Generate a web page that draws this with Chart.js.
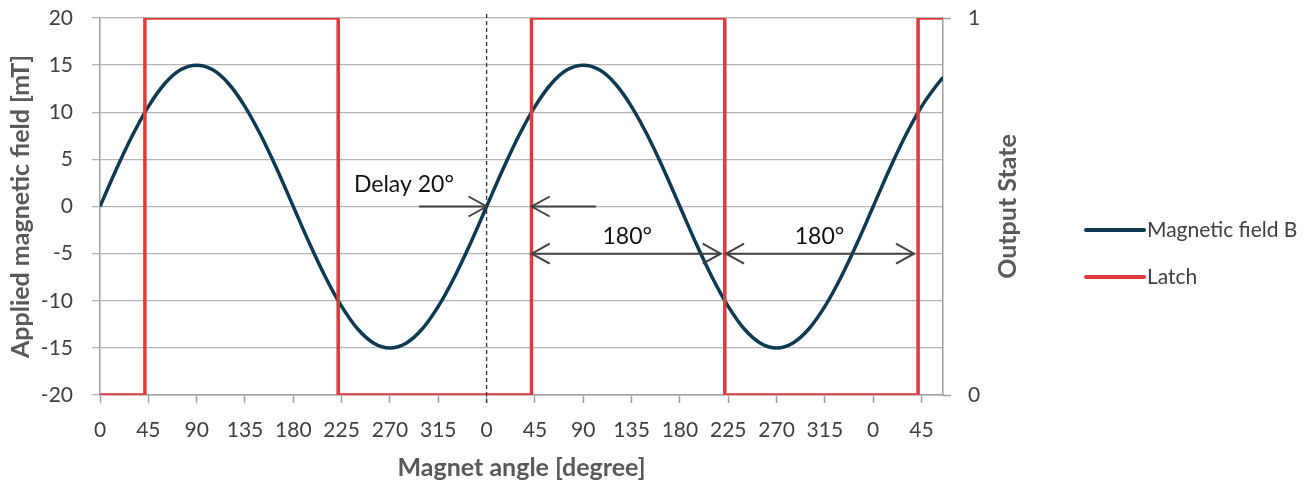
<!DOCTYPE html>
<html lang="en">
<head>
    <meta charset="UTF-8">
    <title>Latch output vs magnet angle</title>
    <script src="https://cdn.jsdelivr.net/npm/chart.js"></script>
    <style>
        body { margin: 0; background: #fff; }
        #wrap { width: 1314px; height: 485px; position: relative; }
    </style>
</head>
<body>
    <div id="wrap"><canvas id="myChart"></canvas></div>

    <script>
        // magnetic field, every 15 degrees
        const angles = [0, 15, 30, 45, 60, 75, 90, 105, 120, 135, 150, 165, 180, 195, 210, 225, 240, 255, 270, 285, 300, 315, 330, 345,
                        360, 375, 390, 405, 420, 435, 450, 465, 480, 495, 510, 525, 540, 555, 570, 585, 600, 615, 630, 645, 660, 675, 690, 705,
                        720, 735, 750, 765, 780, 785];
        const fieldB = [0, 3.9, 7.5, 10.6, 13, 14.5, 15, 14.5, 13, 10.6, 7.5, 3.9, 0, -3.9, -7.5, -10.6, -13, -14.5, -15, -14.5, -13, -10.6, -7.5, -3.9,
                        0, 3.9, 7.5, 10.6, 13, 14.5, 15, 14.5, 13, 10.6, 7.5, 3.9, 0, -3.9, -7.5, -10.6, -13, -14.5, -15, -14.5, -13, -10.6, -7.5, -3.9,
                        0, 3.9, 7.5, 10.6, 13, 13.7];

        // latch output (switches at +/-10 mT)
        const latchAngles = [0, 41.8, 41.8, 221.8, 221.8, 401.8, 401.8, 581.8, 581.8, 761.8, 761.8, 785];
        const latchState  = [0, 0, 1, 1, 0, 0, 1, 1, 0, 0, 1, 1];

        const xTicks = [0, 45, 90, 135, 180, 225, 270, 315, 360, 405, 450, 495, 540, 585, 630, 675, 720, 765];
        const yTicks = [-20, -15, -10, -5, 0, 5, 10, 15, 20];
        const stateTicks = [0, 1];

        // annotation arrows (degrees, mT)
        const arrowFrom  = [297, 462, 402, 583];
        const arrowTo    = [360, 402, 578, 758];
        const arrowLevel = [0, 0, -5, -5];
        const arrowBoth  = [false, false, true, true];

        const noteText  = ['Delay 20°', '180°', '180°'];
        const noteAngle = [283, 491, 670];
        const noteField = [2.3, -3.2, -3.2];

        const markerAngle = 360;

        const FONT = 'Lato, "Open Sans", sans-serif';
        const navy = '#0D3A50';
        const red = '#E0393E';
        const axisGray = '#A0A0A0';

        function arrowHead(ctx, x, y, dir) {
            ctx.beginPath();
            ctx.moveTo(x - dir * 18, y - 10);
            ctx.lineTo(x, y);
            ctx.lineTo(x - dir * 18, y + 10);
            ctx.stroke();
        }

        // keep tick padding from pushing the plot area down
        function fixVertical(width) {
            return s => {
                s.width = width;
                s.paddingTop = 13;
                s.paddingBottom = 13;
            };
        }

        const overlay = {
            id: 'overlay',
            afterDatasetsDraw(chart) {
                const { ctx, scales: { x, y } } = chart;
                ctx.save();

                // dashed marker at 360 deg
                const mx = x.getPixelForValue(markerAngle);
                ctx.strokeStyle = '#333';
                ctx.lineWidth = 1.3;
                ctx.setLineDash([4, 3]);
                ctx.beginPath();
                ctx.moveTo(mx, chart.chartArea.top - 4);
                ctx.lineTo(mx, chart.chartArea.bottom + 10);
                ctx.stroke();
                ctx.setLineDash([]);

                // arrows
                ctx.strokeStyle = '#404040';
                ctx.lineWidth = 2;
                for (let i = 0; i < arrowFrom.length; i++) {
                    const x1 = x.getPixelForValue(arrowFrom[i]);
                    const x2 = x.getPixelForValue(arrowTo[i]);
                    const py = y.getPixelForValue(arrowLevel[i]);
                    ctx.beginPath();
                    ctx.moveTo(x1, py);
                    ctx.lineTo(x2, py);
                    ctx.stroke();
                    const dir = x2 > x1 ? 1 : -1;
                    arrowHead(ctx, x2, py, dir);
                    if (arrowBoth[i]) arrowHead(ctx, x1, py, -dir);
                }

                // notes
                ctx.fillStyle = '#111';
                ctx.font = '23px ' + FONT;
                ctx.textAlign = 'center';
                ctx.textBaseline = 'middle';
                for (let i = 0; i < noteText.length; i++) {
                    ctx.fillText(noteText[i], x.getPixelForValue(noteAngle[i]), y.getPixelForValue(noteField[i]));
                }
                ctx.restore();
            },
            afterDraw(chart) {
                const { ctx, chartArea } = chart;
                ctx.save();
                // right axis title, reads bottom to top
                ctx.translate(1008, (chartArea.top + chartArea.bottom) / 2);
                ctx.rotate(-Math.PI / 2);
                ctx.font = 'bold 25px ' + FONT;
                ctx.fillStyle = '#595959';
                ctx.textAlign = 'center';
                ctx.textBaseline = 'middle';
                ctx.fillText('Output State', 0, 0);
                ctx.restore();

                // legend
                ctx.save();
                const items = chart.data.datasets;
                items.forEach((ds, i) => {
                    const ly = 230 + i * 47;
                    ctx.strokeStyle = ds.borderColor;
                    ctx.lineWidth = 4;
                    ctx.lineCap = 'round';
                    ctx.beginPath();
                    ctx.moveTo(1086, ly);
                    ctx.lineTo(1144, ly);
                    ctx.stroke();
                    ctx.fillStyle = '#404040';
                    ctx.font = '21px ' + FONT;
                    ctx.textAlign = 'left';
                    ctx.textBaseline = 'middle';
                    ctx.fillText(ds.label, 1147, ly);
                });
                ctx.restore();
            }
        };

        const ctx = document.getElementById('myChart').getContext('2d');
        new Chart(ctx, {
            type: 'line',
            data: {
                datasets: [{
                    label: 'Magnetic field B',
                    data: angles.map((a, i) => ({ x: a, y: fieldB[i] })),
                    borderColor: navy,
                    borderWidth: 3.5,
                    pointRadius: 0,
                    cubicInterpolationMode: 'monotone',
                    yAxisID: 'y',
                    order: 2
                }, {
                    label: 'Latch',
                    data: latchAngles.map((a, i) => ({ x: a, y: latchState[i] })),
                    borderColor: red,
                    borderWidth: 3.5,
                    pointRadius: 0,
                    tension: 0,
                    yAxisID: 'y2',
                    order: 1
                }]
            },
            options: {
                responsive: true,
                maintainAspectRatio: false,
                animation: false,
                layout: { padding: { top: 18, right: 291, bottom: 0, left: 0 } },
                plugins: {
                    legend: { display: false },
                    tooltip: { enabled: false }
                },
                scales: {
                    x: {
                        type: 'linear',
                        min: 0,
                        max: 785,
                        afterBuildTicks: s => { s.ticks = xTicks.map(v => ({ value: v })); },
                        afterFit: s => { s.height = 90; },
                        ticks: {
                            callback: v => v % 360,
                            autoSkip: false,
                            maxRotation: 0,
                            padding: 15,
                            color: '#404040',
                            font: { family: FONT, size: 21 }
                        },
                        grid: { drawOnChartArea: false, tickLength: 8, color: axisGray, tickWidth: 1.5 },
                        border: { color: axisGray, width: 1.5 },
                        title: {
                            display: true,
                            text: 'Magnet angle [degree]',
                            color: '#595959',
                            padding: { bottom: 2 },
                            font: { family: FONT, size: 25, weight: 'bold' }
                        }
                    },
                    y: {
                        position: 'left',
                        min: -20,
                        max: 20,
                        afterBuildTicks: s => { s.ticks = yTicks.map(v => ({ value: v })); },
                        afterFit: fixVertical(100),
                        ticks: {
                            padding: 19,
                            color: '#404040',
                            font: { family: FONT, size: 21 }
                        },
                        grid: { color: '#B5B5B5', lineWidth: 1.3, tickLength: 8 },
                        border: { color: axisGray, width: 1.5 },
                        title: {
                            display: true,
                            text: 'Applied magnetic field [mT]',
                            color: '#595959',
                            padding: { top: 6 },
                            font: { family: FONT, size: 25, weight: 'bold' }
                        }
                    },
                    y2: {
                        position: 'right',
                        min: 0,
                        max: 1,
                        afterBuildTicks: s => { s.ticks = stateTicks.map(v => ({ value: v })); },
                        afterFit: fixVertical(80),
                        ticks: {
                            padding: 17,
                            color: '#404040',
                            font: { family: FONT, size: 21 }
                        },
                        grid: { drawOnChartArea: false, tickLength: 8, color: axisGray, tickWidth: 1.5 },
                        border: { color: axisGray, width: 1.5 }
                    }
                }
            },
            plugins: [overlay]
        });
    </script>
</body>
</html>
